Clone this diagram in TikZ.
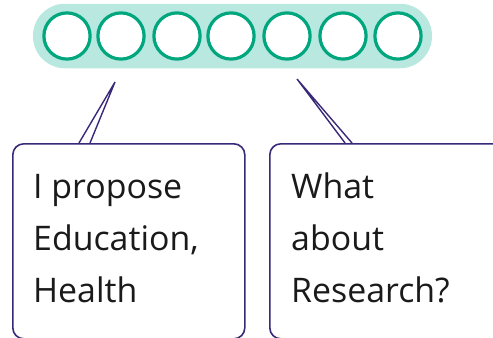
\documentclass[tikz,border=0pt]{standalone}
\usepackage{fontspec}
\setmainfont{Open Sans}
\definecolor{pillc}{HTML}{B8E8DF}
\definecolor{ringc}{HTML}{00A67E}
\definecolor{linec}{HTML}{3A2878}
\definecolor{txtc}{HTML}{1A1A1A}
\tikzset{
  pill/.style={fill=pillc, draw=none, rounded corners=32bp, minimum width=399bp, minimum height=64.5bp, inner sep=0pt},
  ring/.style={circle, draw=ringc, line width=3.2bp, fill=white, minimum size=46.2bp, inner sep=0pt},
  bubble/.style={draw=linec, line width=1.6bp, rounded corners=11bp, fill=white, inner sep=0pt},
  tail/.style={draw=linec, line width=1.4bp},
  txt/.style={font=\fontsize{34}{52}\selectfont, text=txtc, align=left, inner sep=0pt}
}
\begin{document}
\begin{tikzpicture}[x=1bp, y=-1bp]
\useasboundingbox (0,0) rectangle (493,337);
\clip (0,0) rectangle (493,337);
\node[pill] (p) at (232.5,36) {};
\foreach \i/\x in {1/67,2/121,3/177,4/231,5/287,6/343,7/398}{
  \node[ring] (c\i) at (\x,36) {};
}
\node[bubble, minimum width=232bp, minimum height=195bp, anchor=north west] (b1) at (12,143) {};
\node[bubble, minimum width=240bp, minimum height=195bp, anchor=north west] (b2) at (269,143) {};
\coordinate (tip1) at (115,82);
\coordinate (tip2) at (297,79);
\coordinate (l1a) at (79,143);
\coordinate (l1b) at (90,143);
\coordinate (l2a) at (345,143);
\coordinate (l2b) at (352,143);
\draw[tail] (l1a) -- (tip1) -- (l1b);
\draw[tail] (l2a) -- (tip2) -- (l2b);
\node[txt, anchor=base west] (t1) at (33,302) {I propose\\Education,\\Health};
\node[txt, anchor=base west] (t2) at (291,302) {What\\about\\Research?};
\end{tikzpicture}
\end{document}
